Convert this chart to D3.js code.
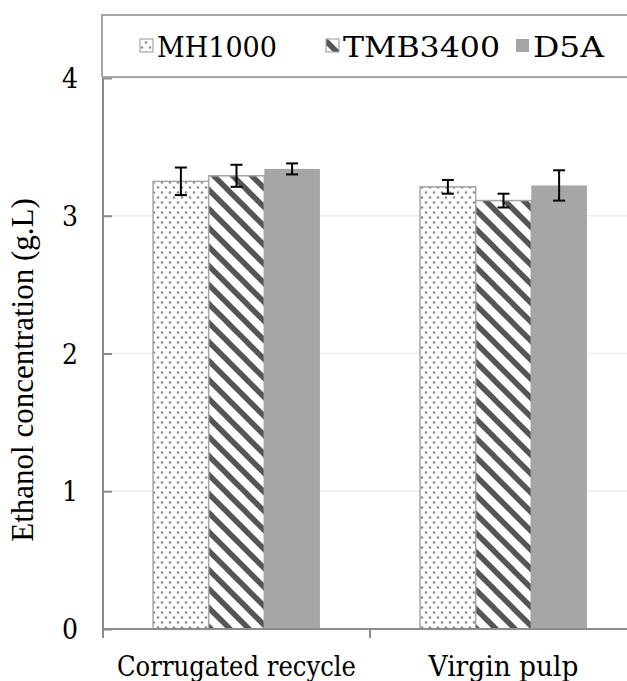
<!DOCTYPE html>
<html><head><meta charset="utf-8">
<script src="https://cdn.jsdelivr.net/npm/d3@7"></script>
<style>body{margin:0;background:#fff}svg{display:block}text{font-family:"DejaVu Serif",serif;fill:#000}</style>
</head><body><svg id="c" width="627" height="681"></svg>
<script>
const categories = ["Corrugated recycle", "Virgin pulp"];
const seriesNames = ["MH1000", "TMB3400", "D5A"];
const mh1000 = [3.25, 3.21];
const tmb3400 = [3.29, 3.11];
const d5a = [3.34, 3.22];
const errMH1000 = [0.10, 0.05];
const errTMB3400 = [0.08, 0.05];
const errD5A = [0.04, 0.11];
const yTicks = [0, 1, 2, 3, 4];
const yTitle = "Ethanol concentration (g.L)";

const values = [mh1000, tmb3400, d5a];
const errs = [errMH1000, errTMB3400, errD5A];
// rendered text widths (layout only)
const catLabelWidths = [239, 150];
const legLabelWidths = [120, 157, 71];

const svg = d3.select("#c");
const defs = svg.append("defs");
const dots = defs.append("pattern").attr("id","dots").attr("patternUnits","userSpaceOnUse").attr("width",8).attr("height",10);
dots.append("rect").attr("width",8).attr("height",10).attr("fill","#fff");
dots.append("circle").attr("cx",2).attr("cy",2.5).attr("r",1.3).attr("fill","#8c8c8c");
dots.append("circle").attr("cx",6).attr("cy",7.5).attr("r",1.3).attr("fill","#8c8c8c");
const str = defs.append("pattern").attr("id","stripes").attr("patternUnits","userSpaceOnUse").attr("width",19).attr("height",19);
str.append("rect").attr("width",19).attr("height",19).attr("fill","#fff");
str.append("path").attr("d","M-5,-5L24,24M-5,14L5,24M14,-5L24,5").attr("stroke","#555").attr("stroke-width",5.5);
const fills = ["url(#dots)","url(#stripes)","#a6a6a6"];

const x0 = d3.scaleBand().domain(categories).range([103, 637]);
const bw = x0.bandwidth()*0.625/3;
const y = d3.scaleLinear().domain([0, 4]).range([629, 78]);

svg.append("g").selectAll("line").data(yTicks.slice(1)).join("line")
  .attr("x1",104).attr("x2",627).attr("y1",d=>y(d)).attr("y2",d=>y(d))
  .attr("stroke","#ececec").attr("stroke-width",1.5);

categories.forEach((c,ci)=>{
  const cx = x0(c) + x0.bandwidth()/2;
  seriesNames.forEach((s,si)=>{
    const v = values[si][ci];
    const bx = cx + (si-1.5)*bw;
    svg.append("rect").attr("x",bx).attr("y",y(v)).attr("width",bw).attr("height",y(0)-y(v))
      .attr("fill",fills[si]).attr("stroke", si<2 ? "#a6a6a6" : "none").attr("stroke-width",1.5);
  });
});
categories.forEach((c,ci)=>{
  const cx = x0(c) + x0.bandwidth()/2;
  seriesNames.forEach((s,si)=>{
    const v = values[si][ci], e = errs[si][ci];
    const mx = cx + (si-1)*bw;
    const g = svg.append("g").attr("stroke","#000").attr("stroke-width",2);
    g.append("line").attr("x1",mx).attr("x2",mx).attr("y1",y(v+e)).attr("y2",y(v-e));
    g.append("line").attr("x1",mx-6).attr("x2",mx+6).attr("y1",y(v+e)).attr("y2",y(v+e));
    g.append("line").attr("x1",mx-6).attr("x2",mx+6).attr("y1",y(v-e)).attr("y2",y(v-e));
  });
});

const yAxis = d3.axisLeft(y).tickValues(yTicks).tickFormat(d3.format("d")).tickSize(-9).tickPadding(25);
const ya = svg.append("g").attr("transform","translate(103,0)").call(yAxis);
ya.attr("font-family",null).attr("font-size",null);
ya.select(".domain").attr("stroke","#8c8c8c").attr("stroke-width",2).attr("d","M0,77V629");
ya.selectAll(".tick line").attr("stroke","#8c8c8c").attr("stroke-width",2);
ya.selectAll(".tick text").style("font-size","27px").attr("textLength",16).attr("lengthAdjust","spacingAndGlyphs")
  .attr("fill","#000").attr("dy","0.36em");

const xa = svg.append("g").attr("transform","translate(0,629)");
xa.append("line").attr("x1",103).attr("x2",627).attr("stroke","#8c8c8c").attr("stroke-width",2);
const bounds = [x0.range()[0], x0(categories[1])];
xa.selectAll("line.tk").data(bounds).join("line").attr("class","tk")
  .attr("x1",d=>d).attr("x2",d=>d).attr("y1",0).attr("y2",9).attr("stroke","#8c8c8c").attr("stroke-width",2);
xa.selectAll("text").data(categories).join("text")
  .attr("x",d=>x0(d)+x0.bandwidth()/2).attr("y",47)
  .attr("text-anchor","middle").style("font-size","27px")
  .attr("textLength",(d,i)=>catLabelWidths[i]).attr("lengthAdjust","spacingAndGlyphs").text(d=>d);

svg.append("text").attr("transform","translate(33,370) rotate(-90)").attr("text-anchor","middle")
  .style("font-family","'Liberation Serif', serif").style("font-size","31px").text(yTitle);

svg.append("path").attr("d","M102,77V15H640M102,77H640").attr("fill","none").attr("stroke","#a6a6a6").attr("stroke-width",2);
const legX = [140, 326, 516];
seriesNames.forEach((s,i)=>{
  svg.append("rect").attr("x",legX[i]).attr("y",39).attr("width",13).attr("height",13)
    .attr("fill",fills[i]).attr("stroke", i<2 ? "#a6a6a6":"none").attr("stroke-width",1.2);
  svg.append("text").attr("x",legX[i]+17).attr("y",57).style("font-size","27px")
    .attr("textLength",legLabelWidths[i]).attr("lengthAdjust","spacingAndGlyphs").text(s);
});
</script></body></html>
